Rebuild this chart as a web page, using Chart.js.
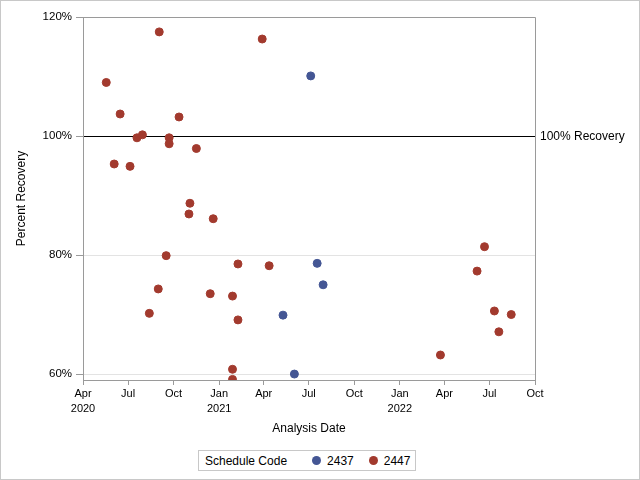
<!DOCTYPE html>
<html>
<head>
<meta charset="utf-8">
<script src="https://cdn.jsdelivr.net/npm/chart.js@4/dist/chart.umd.min.js"></script>
<style>
  html, body { margin: 0; padding: 0; background: #fff; }
  #wrap { position: relative; width: 640px; height: 480px; }
  #legend {
    position: absolute; left: 198px; top: 450px; width: 218px; height: 21px;
    box-sizing: border-box; border: 1px solid #c8c8c8; background: #fff;
    font-family: "Liberation Sans", Arial, sans-serif; font-size: 12px; color: #000;
    display: flex; align-items: center; white-space: nowrap;
  }
  #legend .t { margin-left: 6px; }
  #legend .dot { display: inline-block; width: 9px; height: 9px; border-radius: 50%; }
</style>
</head>
<body>
<div id="wrap">
  <canvas id="c" width="640" height="480"></canvas>
  <div id="legend">
    <span class="t">Schedule Code</span>
    <span class="dot" style="margin-left:25px;background:#445694"></span>
    <span style="margin-left:6px">2437</span>
    <span class="dot" style="margin-left:15px;background:#A23A2E"></span>
    <span style="margin-left:6px">2447</span>
  </div>
</div>
<script>
// ---- Data ----
const seriesNames = ['2437', '2447'];

const dates2437 = ['2021-05-10', '2021-06-02', '2021-07-05', '2021-07-18', '2021-07-30'];
const values2437 = [69.9, 60.0, 110.1, 78.6, 75.0];

const dates2447 = [
  '2020-05-18', '2020-06-03', '2020-06-15', '2020-07-05', '2020-07-19', '2020-07-30',
  '2020-08-13', '2020-08-31', '2020-09-02', '2020-09-16', '2020-09-22', '2020-09-22',
  '2020-10-12', '2020-11-01', '2020-11-03', '2020-11-16', '2020-12-14', '2020-12-20',
  '2021-01-28', '2021-01-28', '2021-01-28', '2021-02-08', '2021-02-08', '2021-03-29',
  '2021-04-12', '2022-03-24', '2022-06-06', '2022-06-21', '2022-07-11', '2022-07-20',
  '2022-08-14'
];
const values2447 = [
  109.0, 95.3, 103.7, 94.9, 99.7, 100.2,
  70.2, 74.3, 117.5, 79.9, 99.7, 98.7,
  103.2, 86.9, 88.7, 97.9, 73.5, 86.1,
  73.1, 60.8, 59.1, 78.5, 69.1, 116.3,
  78.2, 63.2, 77.3, 81.4, 70.6, 67.1,
  70.0
];

const xTickDates = ['2020-04-01', '2020-07-01', '2020-10-01', '2021-01-01', '2021-04-01', '2021-07-01',
                    '2021-10-01', '2022-01-01', '2022-04-01', '2022-07-01', '2022-10-01'];
const xTickLabels = [['Apr', '2020'], 'Jul', 'Oct', ['Jan', '2021'], 'Apr', 'Jul', 'Oct', ['Jan', '2022'], 'Apr', 'Jul', 'Oct'];
const yTickValues = [60, 80, 100, 120];
const referenceValue = 100;
const referenceLabel = '100% Recovery';

// ---- Helpers ----
const toMs = s => { const p = s.split('-').map(Number); return Date.UTC(p[0], p[1] - 1, p[2]); };
const mkPoints = (ds, vs) => ds.map((d, i) => ({ x: toMs(d), y: vs[i] }));

const FONT = '"Liberation Sans", Arial, sans-serif';
const AXIS_GRAY = '#9a9a9a';

const framePlugin = {
  id: 'frame',
  beforeDatasetsDraw(chart) {
    const { ctx, chartArea: a } = chart;
    ctx.save();
    ctx.strokeStyle = AXIS_GRAY;
    ctx.lineWidth = 1;
    ctx.beginPath();
    ctx.moveTo(a.left, a.top + 0.5);
    ctx.lineTo(a.right + 0.5, a.top + 0.5);
    ctx.lineTo(a.right + 0.5, a.bottom);
    ctx.stroke();
    ctx.restore();
  },
  afterDraw(chart) {
    const { ctx, chartArea: a } = chart;
    const y = chart.scales.y.getPixelForValue(referenceValue);
    ctx.save();
    ctx.fillStyle = '#000';
    ctx.font = '12px ' + FONT;
    ctx.textAlign = 'left';
    ctx.textBaseline = 'middle';
    ctx.fillText(referenceLabel, a.right + 5, y + 1);
    ctx.strokeStyle = '#c8c8c8';
    ctx.lineWidth = 1;
    ctx.strokeRect(0.5, 0.5, chart.width - 1, chart.height - 1);
    ctx.restore();
  }
};

new Chart(document.getElementById('c'), {
  type: 'scatter',
  data: {
    datasets: [
      {
        label: seriesNames[0],
        data: mkPoints(dates2437, values2437),
        backgroundColor: '#445694', borderColor: '#445694',
        pointRadius: 4, borderWidth: 1, clip: 0
      },
      {
        label: seriesNames[1],
        data: mkPoints(dates2447, values2447),
        backgroundColor: '#A23A2E', borderColor: '#A23A2E',
        pointRadius: 4, borderWidth: 1, clip: 0
      }
    ]
  },
  options: {
    responsive: false,
    animation: false,
    events: [],
    layout: { padding: { left: 10, top: 17, right: 105, bottom: 40 } },
    plugins: { legend: { display: false }, tooltip: { enabled: false } },
    scales: {
      x: {
        type: 'linear',
        min: toMs('2020-04-01'),
        max: toMs('2022-10-01'),
        afterBuildTicks: s => { s.ticks = xTickDates.map(d => ({ value: toMs(d) })); },
        afterFit: s => { s.height = 60; },
        ticks: {
          autoSkip: false, maxRotation: 0, padding: 2,
          color: '#000', font: { family: FONT, size: 11, lineHeight: 1.35 },
          callback: (v, i) => xTickLabels[i]
        },
        grid: { drawOnChartArea: false, drawTicks: true, tickLength: 5, tickColor: AXIS_GRAY },
        border: { display: true, color: AXIS_GRAY },
        title: { display: true, text: 'Analysis Date', color: '#000', font: { family: FONT, size: 12 }, padding: { top: 4, bottom: 4 } }
      },
      y: {
        min: 59, max: 120,
        afterBuildTicks: s => { s.ticks = yTickValues.map(v => ({ value: v })); },
        afterFit: s => { s.width = 73; },
        ticks: {
          color: '#000', padding: 4,
          font: { family: FONT, size: 11.5 },
          callback: v => v + '%'
        },
        grid: {
          drawTicks: true, tickLength: 7, tickColor: AXIS_GRAY,
          color: c => (c.tick && c.tick.value === referenceValue) ? '#000' :
                      (c.tick && c.tick.value === 120) ? AXIS_GRAY : '#e3e3e3',
          lineWidth: 1
        },
        border: { display: true, color: AXIS_GRAY },
        title: { display: true, text: 'Percent Recovery', color: '#000', font: { family: FONT, size: 12 }, padding: { top: 4, bottom: 4 } }
      }
    }
  },
  plugins: [framePlugin]
});
</script>
</body>
</html>
